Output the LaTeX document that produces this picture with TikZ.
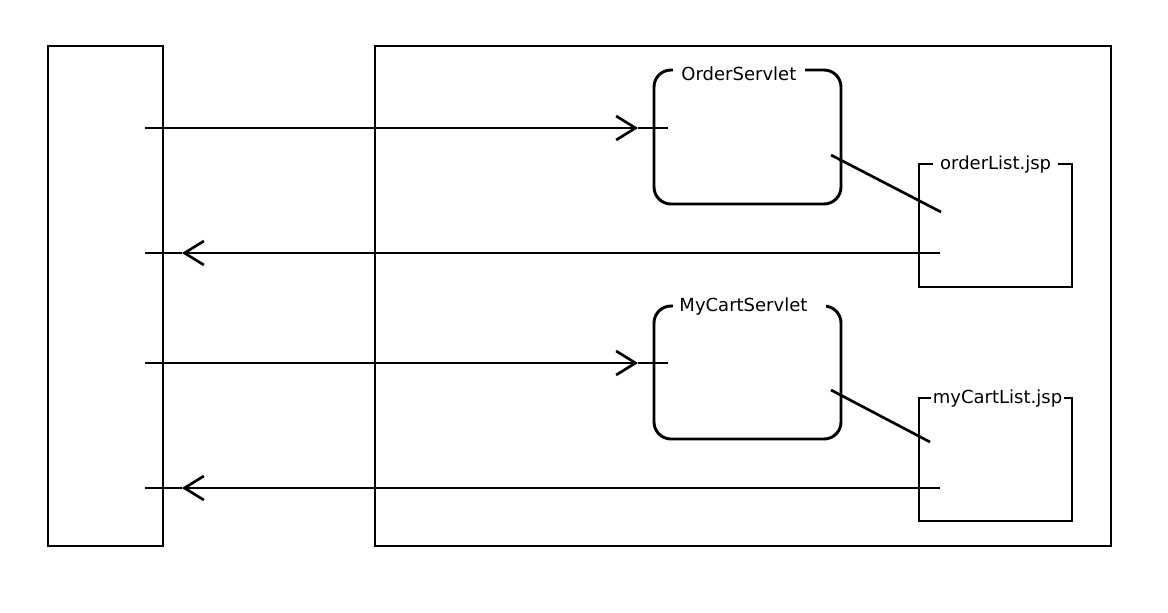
\documentclass[tikz,border=0pt]{standalone}
\usepackage{fontspec}
\setmainfont{DejaVu Sans}
\usetikzlibrary{arrows.meta,fit}
\begin{document}
\begin{tikzpicture}[x=0.75pt,y=-0.75pt,line width=2.2pt,
  frame/.style={draw, inner sep=0pt, outer sep=0pt},
  servlet/.style={frame, rounded corners=12.75pt},
  caption/.style={fill=white, anchor=base west, align=left, inner ysep=1pt,
    font=\fontsize{13.5}{16}\selectfont},
  flow/.style={line width=2pt},
  headed/.style={flow, -{Straight Barb[length=14.5pt,width=18pt]}}]
\useasboundingbox (0,0) rectangle (1168,612);

% client and server frames
\node[frame, fit={(48,46) (163,546)}] (client) {};
\node[frame, fit={(375,46) (1111,546)}] (server) {};

% servlets and pages
\node[servlet, fit={(654,70) (841,204)}] (orderServlet) {};
\node[frame, fit={(919,164) (1072,287)}] (orderList) {};
\node[servlet, fit={(654,306) (841,439)}] (cartServlet) {};
\node[frame, fit={(919,398) (1072,521)}] (cartList) {};

% titles sitting in the top edges
\node[caption, inner xsep=6pt, text width=86.5pt] (orderServletLbl) at (672,80) {OrderServlet};
\node[caption, inner xsep=5pt, text width=83.75pt] (orderListLbl) at (932,169) {orderList.jsp};
\node[caption, inner xsep=4.5pt, text width=105.75pt] (cartServletLbl) at (672,311) {MyCartServlet};
\node[caption, inner xsep=1.1pt, text width=97pt] (cartListLbl) at (930,403) {myCartList.jsp};

% end points of the request/response lines
\coordinate (reqA) at (145,128);
\coordinate (reqAtip) at (638,128);
\coordinate (reqAend) at (668,128);
\coordinate (resA) at (940,253);
\coordinate (resAtip) at (182,253);
\coordinate (resAend) at (145,253);
\coordinate (reqB) at (145,363);
\coordinate (reqBtip) at (638,363);
\coordinate (reqBend) at (668,363);
\coordinate (resB) at (940,488);
\coordinate (resBtip) at (182,488);
\coordinate (resBend) at (145,488);

% forward links from servlet to page
\coordinate (fwdA1) at (831,155);
\coordinate (fwdA2) at (941,212);
\coordinate (fwdB1) at (831,390);
\coordinate (fwdB2) at (930,442);

% requests
\draw[headed] (reqA) -- (reqAtip);
\draw[flow] (reqAtip) -- (reqAend);
\draw[headed] (reqB) -- (reqBtip);
\draw[flow] (reqBtip) -- (reqBend);

% responses
\draw[headed] (resA) -- (resAtip);
\draw[flow] (resAtip) -- (resAend);
\draw[headed] (resB) -- (resBtip);
\draw[flow] (resBtip) -- (resBend);

% forwards
\draw[flow] (fwdA1) -- (fwdA2);
\draw[flow] (fwdB1) -- (fwdB2);
\end{tikzpicture}
\end{document}
